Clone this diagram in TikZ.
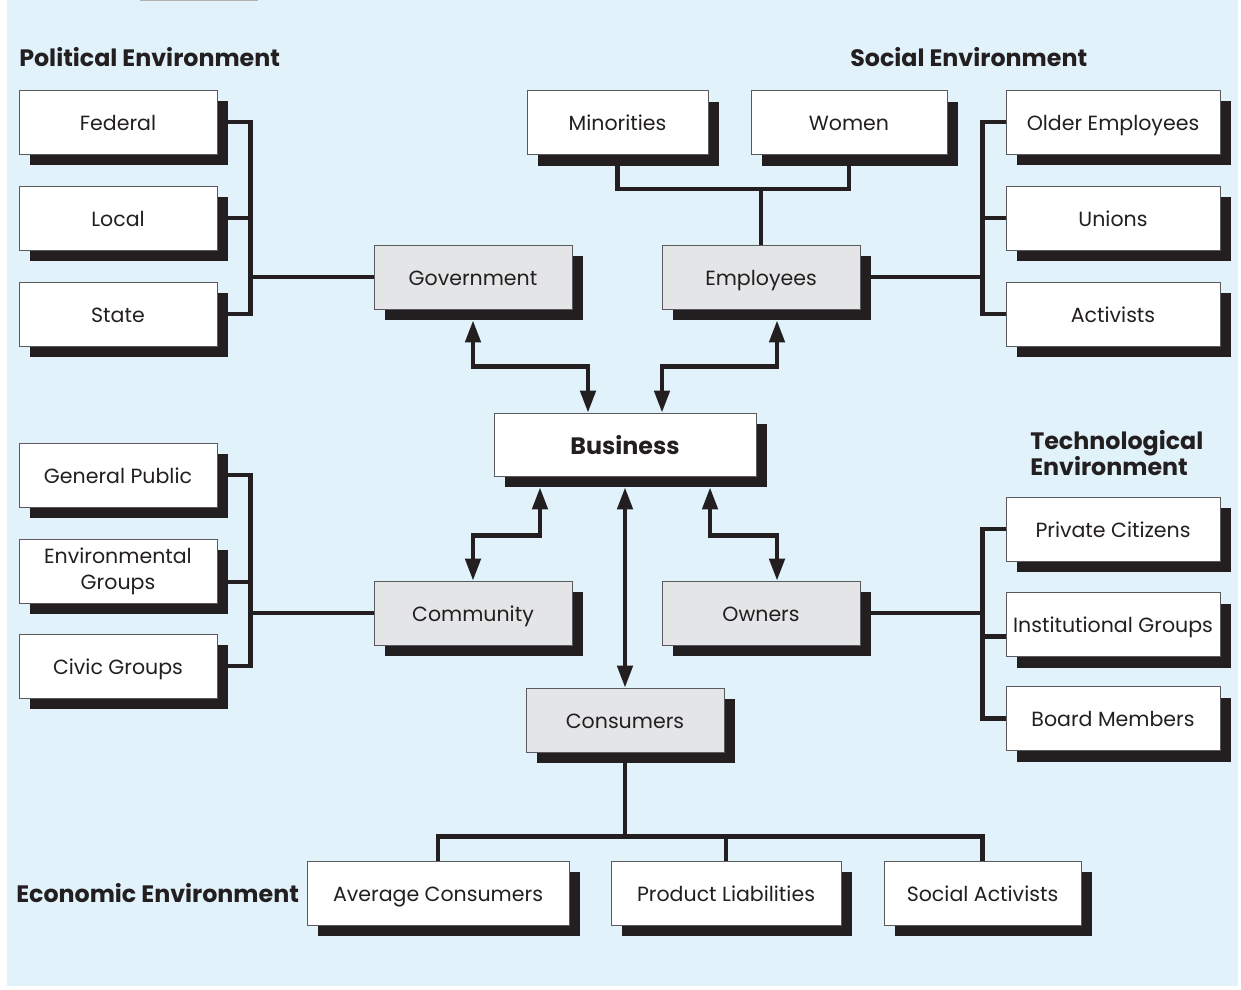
\documentclass[tikz,border=0pt]{standalone}
\usepackage{fontspec}
\setmainfont{Poppins}
\usepackage{tikz}
\usetikzlibrary{shapes,shadows,calc,positioning,arrows.meta}
\definecolor{bgblue}{RGB}{225,242,251}
\definecolor{hubgray}{RGB}{228,229,231}
\definecolor{ink}{RGB}{35,31,32}
\definecolor{rim}{RGB}{90,90,92}
\definecolor{tabgray}{RGB}{178,178,178}
\newcommand{\boxfont}{\fontsize{14.6}{18.5}\selectfont}
\newcommand{\headfont}{\fontsize{16.9}{19}\selectfont\bfseries}
\tikzset{leaf/.style={rectangle,draw=rim,line width=0.6pt,fill=white,text=ink,
minimum width=4.95cm,minimum height=1.6cm,inner sep=0pt,align=center,font=\boxfont,
text height=12pt,text depth=0pt,
drop shadow={shadow xshift=0.275cm,shadow yshift=-0.275cm,opacity=1,fill=ink}},
hub/.style={leaf,fill=hubgray},
head/.style={anchor=west,inner sep=0pt,text=ink,font=\headfont,align=left},
link/.style={draw=ink,line width=3pt},
both/.style={link,<->},
>={Triangle[width=0.38cm,length=0.55cm]}}

\begin{document}
\begin{tikzpicture}[x=0.025cm,y=-0.025cm]
  \useasboundingbox (0,0) rectangle (1241,989);
  \fill [bgblue] (7,0) rectangle (1238,986);
  \draw [tabgray,line width=1pt] (140,0.5) -- (258,0.5);

  \node (polh) [head] at (19,57) {Political Environment};
  \node (soch) [head] at (850,57) {Social Environment};
  \node (tech) [head] at (1030,453) {Technological\\Environment};
  \node (ecoh) [head] at (16,893) {Economic Environment};

  \node (fed) [leaf] at (118,122) {Federal};
  \node (loc) [leaf] at (118,218) {Local};
  \node (sta) [leaf] at (118,314) {State};
  \node (gov) [hub] at (473,277) {Government};
  \node (emp) [hub] at (761,277) {Employees};
  \node (min) [leaf,minimum width=4.525cm] at (617.5,122.5) {Minorities};
  \node (wom) [leaf,minimum width=4.9cm] at (849,122.5) {Women};
  \node (old) [leaf,minimum width=5.35cm] at (1113,122) {Older Employees};
  \node (uni) [leaf,minimum width=5.35cm] at (1113,218) {Unions};
  \node (act) [leaf,minimum width=5.35cm] at (1113,314) {Activists};
  \node (biz) [leaf,minimum width=6.55cm,minimum height=1.575cm,font=\headfont,text height=14pt] at (625,444.5) {Business};
  \node (pub) [leaf] at (118,475) {General Public};
  \node (env) [leaf,text height=,text depth=] at (118,571) {Environmental\\Groups};
  \node (civ) [leaf] at (118,666) {Civic Groups};
  \node (com) [hub] at (473,613) {Community};
  \node (own) [hub] at (761,613) {Owners};
  \node (cit) [leaf,minimum width=5.35cm] at (1113,529) {Private Citizens};
  \node (ins) [leaf,minimum width=5.35cm] at (1113,624.5) {Institutional Groups};
  \node (brd) [leaf,minimum width=5.35cm] at (1113,718.5) {Board Members};
  \node (con) [hub] at (625,720) {Consumers};
  \node (avg) [leaf,minimum width=6.55cm] at (438,893) {Average Consumers};
  \node (prd) [leaf,minimum width=5.75cm] at (726,893) {Product Liabilities};
  \node (soc) [leaf,minimum width=4.925cm] at (982.5,893) {Social Activists};

  \draw [link] ([xshift=0.275cm]fed.east) -- ++(22,0) |- ([xshift=0.275cm]sta.east);
  \draw [link] ([xshift=0.275cm]loc.east) -- ++(22,0);
  \draw [link] (gov.west) -- ++(-124,0);
  \draw [link] ([yshift=-0.275cm]min.south) -- ++(0,23) -| ([yshift=-0.275cm]wom.south);
  \draw [link] (emp.north) -- ++(0,-57);
  \draw [link] (old.west) -- ++(-23,0) |- (act.west);
  \draw [link] (uni.west) -- ++(-23,0);
  \draw [link] ([xshift=0.275cm]emp.east) -- ++(112,0);

  \draw [both] ([yshift=-0.275cm]gov.south) -- ++(0,46) -| ([xshift=-0.925cm]biz.north);
  \draw [both] ([xshift=0.4cm,yshift=-0.275cm]emp.south) -- ++(0,46) -| ([xshift=0.925cm]biz.north);
  \draw [both] ([xshift=-2.125cm,yshift=-0.275cm]biz.south) -- ++(0,48) -| (com.north);
  \draw [both] ([xshift=2.125cm,yshift=-0.275cm]biz.south) -- ++(0,48) -| ([xshift=0.4cm]own.north);
  \draw [both] ([yshift=-0.275cm]biz.south) -- (con.north);

  \draw [link] ([xshift=0.275cm]pub.east) -- ++(22,0) |- ([xshift=0.275cm]civ.east);
  \draw [link] ([xshift=0.275cm,yshift=-0.275cm]env.east) -- ++(22,0);
  \draw [link] (com.west) -- ++(-124,0);
  \draw [link] (cit.west) -- ++(-23,0) |- (brd.west);
  \draw [link] ([yshift=-0.3cm]ins.west) -- ++(-23,0);
  \draw [link] ([xshift=0.275cm]own.east) -- ++(112,0);

  \draw [link] ([yshift=-0.275cm]con.south) -- ++(0,74);
  \draw [link] (avg.north) -- ++(0,-24) -| (soc.north);
  \draw [link] (prd.north) -- ++(0,-24);
\end{tikzpicture}
\end{document}
